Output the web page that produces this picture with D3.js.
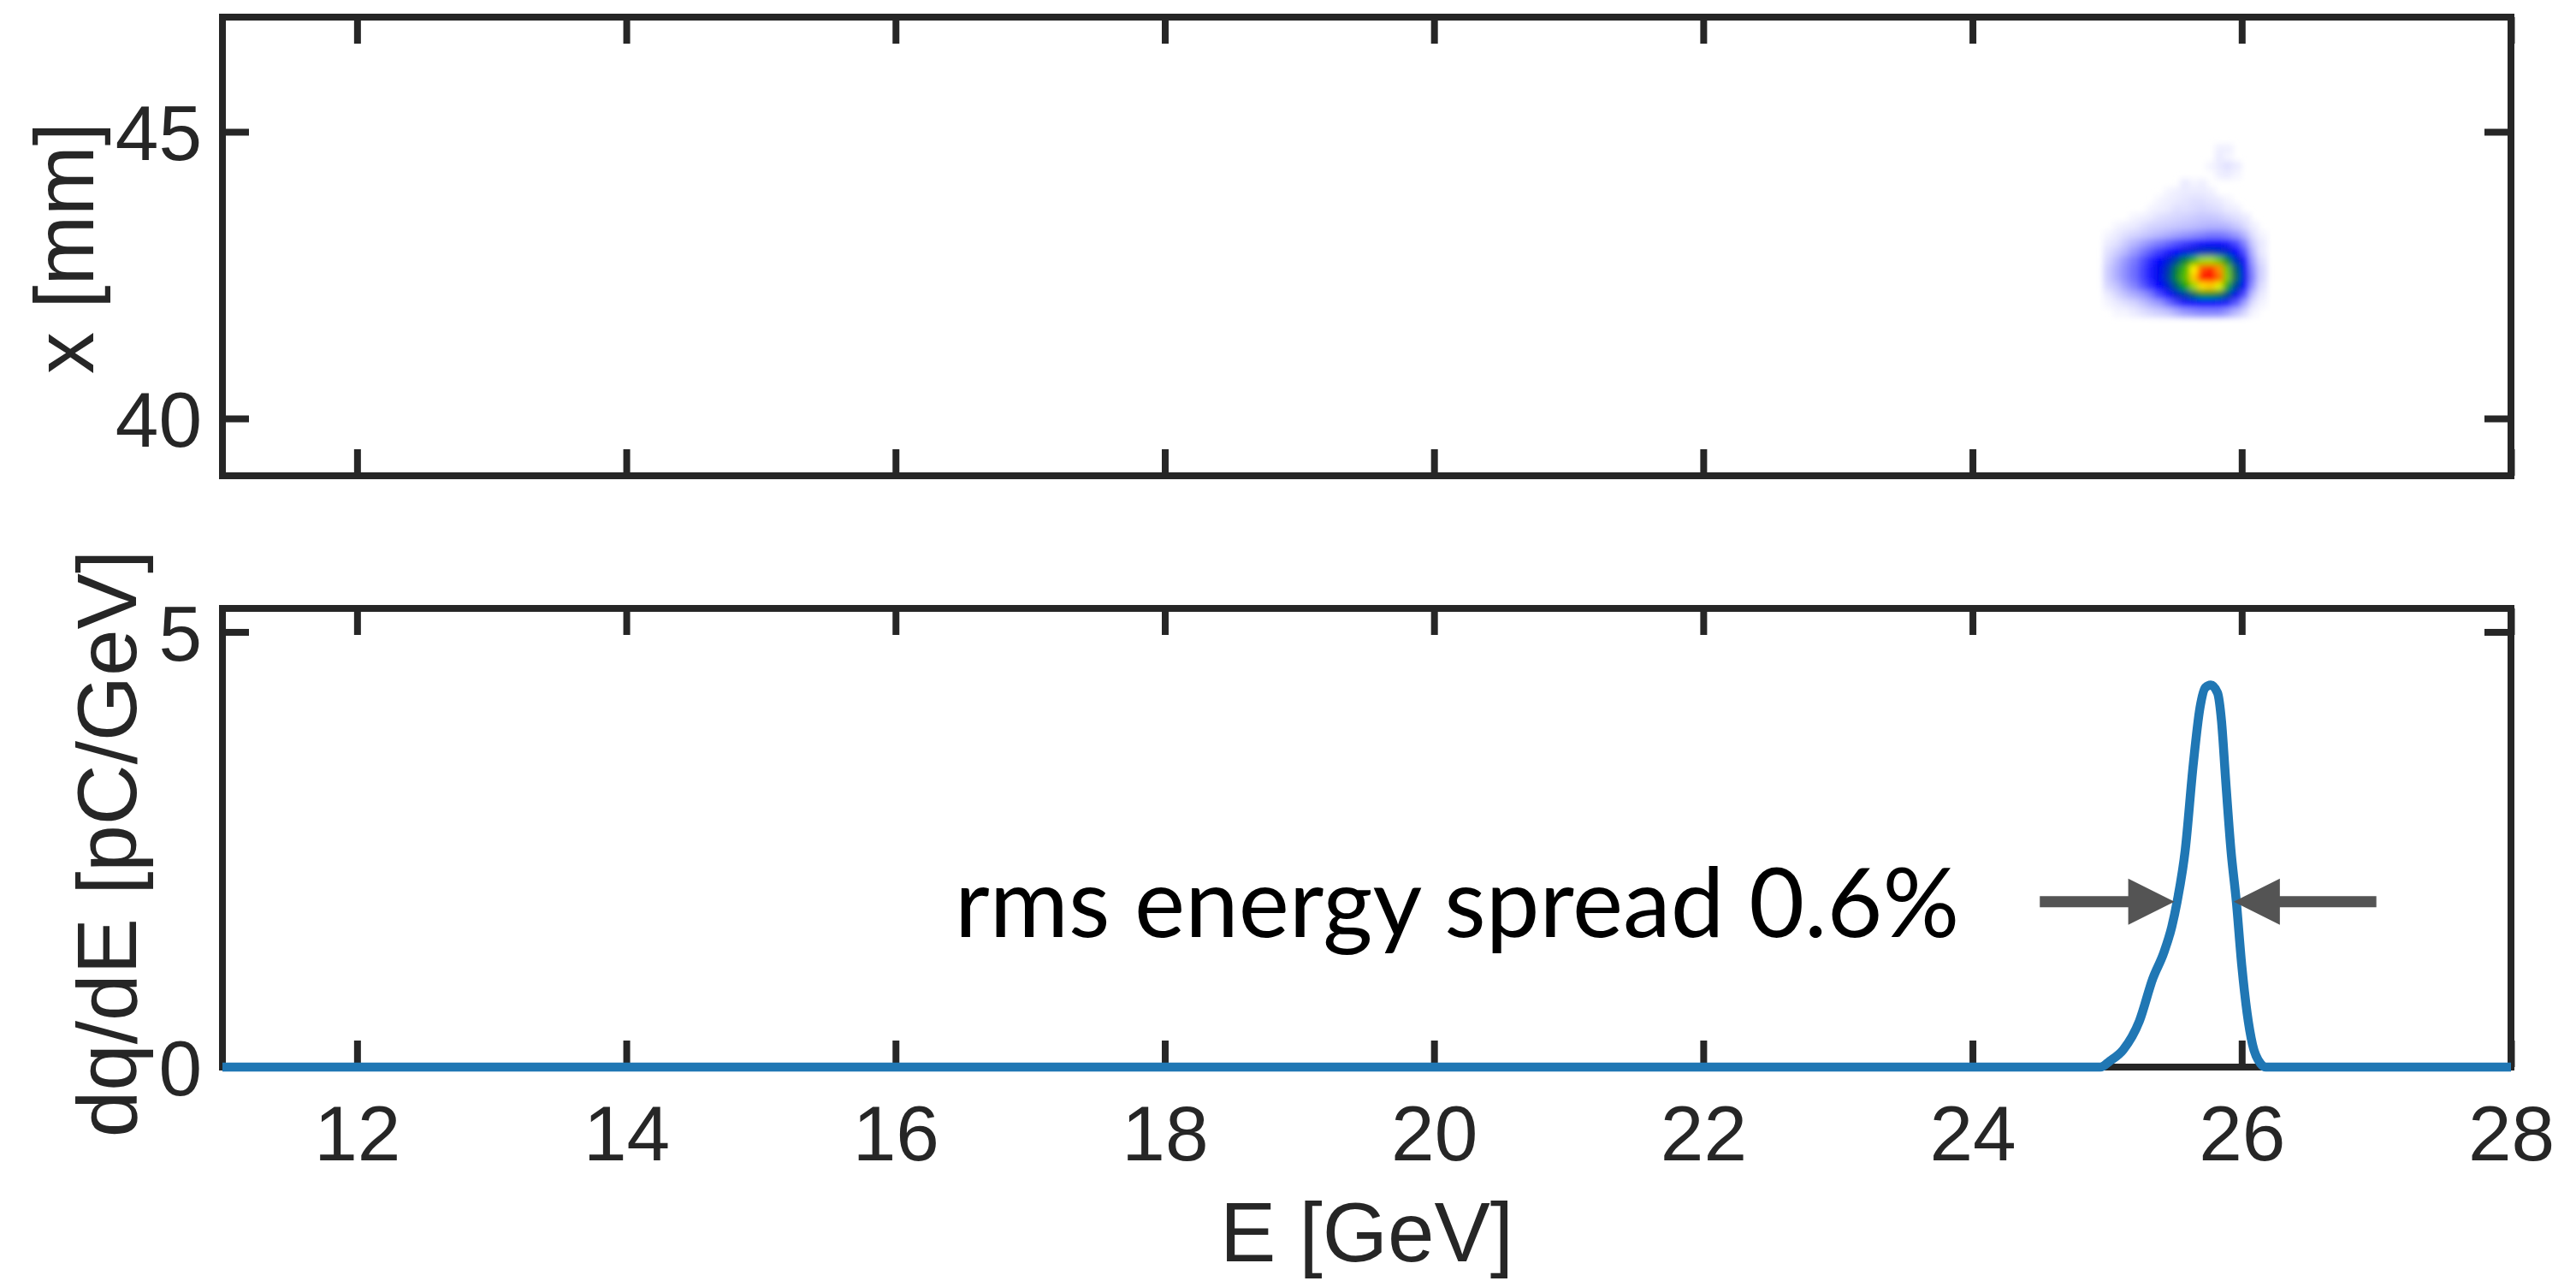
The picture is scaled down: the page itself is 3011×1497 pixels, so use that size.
<!DOCTYPE html>
<html>
<head>
<meta charset="utf-8">
<script src="https://cdn.jsdelivr.net/npm/d3@7"></script>
<style>
  html, body { margin: 0; padding: 0; background: #ffffff; }
  svg { display: block; }
</style>
</head>
<body>
<svg id="fig" width="3011" height="1497"></svg>
<script>
// ---- tick values ----
const energyTicks = [12, 14, 16, 18, 20, 22, 24, 26, 28];
const positionTicks = [40, 45];
const chargeTicks = [0, 5];

// ---- charge spectrum dq/dE [pC/GeV] versus E [GeV] ----
const specE = [11, 24.95, 25.02, 25.12, 25.24, 25.34, 25.42, 25.48, 25.52, 25.58, 25.64, 25.69, 25.73,
               25.77, 25.82, 25.85, 25.88, 25.92, 25.96, 26.00, 26.04, 26.08, 26.14, 26.18, 28];
const specQ = [0, 0, 0.07, 0.20, 0.53, 1.02, 1.31, 1.61, 1.90, 2.49, 3.48, 4.13, 4.36,
               4.39, 4.30, 3.97, 3.31, 2.49, 1.90, 1.17, 0.62, 0.26, 0.04, 0, 0];

// ---- spectrometer screen image: bin centres and normalised intensity ----
const spotE = [25.01, 25.08, 25.14, 25.20, 25.27, 25.33, 25.39, 25.46, 25.52,
               25.58, 25.65, 25.71, 25.77, 25.84, 25.90, 25.96, 26.03, 26.09, 26.15];
const spotX = [44.70, 44.55, 44.40, 44.25, 44.10, 43.95, 43.80, 43.65, 43.50, 43.35,
               43.20, 43.05, 42.90, 42.75, 42.60, 42.45, 42.30, 42.15, 42.00, 41.85];
const spotI = [
  [0,0,0,0,0,0,0,0,0,0,0,0,0,0.015,0.015,0,0,0,0],
  [0,0,0,0,0,0,0,0,0,0,0,0,0,0.02,0.01,0,0,0,0],
  [0,0,0,0,0,0,0,0,0,0,0,0,0.01,0.02,0.03,0.02,0,0,0],
  [0,0,0,0,0,0,0,0,0,0,0,0,0,0.015,0.02,0.01,0,0,0],
  [0,0,0,0,0,0,0,0,0,0.02,0.01,0.015,0,0,0,0,0,0,0],
  [0,0,0,0,0,0,0,0.01,0.015,0.02,0.02,0.02,0.015,0,0,0,0,0,0],
  [0,0,0,0,0,0,0.01,0.015,0.02,0.025,0.03,0.03,0.025,0.02,0.01,0,0,0,0],
  [0,0,0,0,0,0.01,0.015,0.02,0.03,0.03,0.035,0.04,0.035,0.03,0.02,0.015,0,0,0],
  [0,0,0,0.01,0.015,0.02,0.03,0.035,0.04,0.045,0.05,0.055,0.055,0.05,0.04,0.03,0.02,0,0],
  [0,0.01,0.015,0.02,0.03,0.04,0.045,0.05,0.055,0.06,0.065,0.07,0.075,0.075,0.07,0.055,0.035,0.015,0],
  [0.01,0.02,0.03,0.04,0.05,0.06,0.07,0.08,0.09,0.10,0.11,0.12,0.13,0.13,0.12,0.10,0.07,0.03,0.01],
  [0.02,0.03,0.05,0.07,0.09,0.11,0.13,0.15,0.17,0.19,0.21,0.23,0.24,0.24,0.22,0.18,0.12,0.05,0.02],
  [0.03,0.05,0.07,0.10,0.13,0.16,0.19,0.22,0.25,0.28,0.30,0.32,0.33,0.32,0.30,0.25,0.17,0.07,0.02],
  [0.04,0.07,0.10,0.13,0.17,0.21,0.25,0.29,0.35,0.45,0.55,0.65,0.66,0.60,0.46,0.32,0.23,0.09,0.03],
  [0.05,0.08,0.11,0.14,0.18,0.22,0.27,0.33,0.44,0.56,0.76,0.92,0.96,0.86,0.60,0.40,0.26,0.11,0.04],
  [0.05,0.08,0.11,0.14,0.18,0.22,0.27,0.34,0.46,0.58,0.80,0.98,1.00,0.90,0.62,0.42,0.27,0.12,0.04],
  [0.04,0.06,0.09,0.12,0.16,0.20,0.25,0.30,0.39,0.50,0.65,0.78,0.80,0.72,0.52,0.36,0.25,0.10,0.03],
  [0.02,0.04,0.06,0.08,0.10,0.13,0.18,0.23,0.29,0.34,0.41,0.47,0.47,0.44,0.37,0.27,0.17,0.06,0.02],
  [0.01,0.02,0.03,0.04,0.06,0.08,0.10,0.14,0.18,0.22,0.24,0.25,0.25,0.24,0.22,0.16,0.09,0.03,0.01],
  [0,0.01,0.01,0.02,0.03,0.04,0.05,0.06,0.08,0.10,0.11,0.12,0.12,0.12,0.10,0.07,0.04,0.01,0]
];

// ---- energy-spread annotation ----
const arrowLevel = 1.9;          // dq/dE level of the arrows
const arrowFrom = [24.5, 27.0];  // tail positions [GeV]
const arrowTo = [25.5, 25.94];   // tip positions [GeV]
const annotationText = "rms energy spread 0.6%";
const annotationE = 16.44;

// ---- layout ----
const W = 3011, H = 1497;
const left = 260, right = 2935;
const top1 = 20, bottom1 = 556;
const top2 = 711, bottom2 = 1247;
const axisColor = "#262626";
const tickLen = 31;
const axisFont = "'Liberation Sans', Arial, Helvetica, sans-serif";

const svg = d3.select("#fig");
svg.append("rect").attr("width", W).attr("height", H).attr("fill", "#ffffff");

const x = d3.scaleLinear().domain([11, 28]).range([left, right]);
const yPos = d3.scaleLinear().domain([39, 47]).range([bottom1, top1]);
const yQ = d3.scaleLinear().domain([0, 5.27]).range([bottom2, top2]);

const defs = svg.append("defs");
defs.append("clipPath").attr("id", "clipTop")
  .append("rect").attr("x", left).attr("y", top1).attr("width", right - left).attr("height", bottom1 - top1);
defs.append("filter").attr("id", "soften")
  .attr("filterUnits", "userSpaceOnUse")
  .attr("x", left).attr("y", top1).attr("width", right - left).attr("height", bottom1 - top1)
  .append("feGaussianBlur").attr("stdDeviation", 3.5);

// ---- screen image (top panel) ----
const cmap = d3.scaleLinear()
  .domain([0, 0.25, 0.5, 0.75, 1])
  .range(["#ffffff", "#0000ff", "#00a000", "#ffff00", "#ff0000"])
  .clamp(true);

const dE = spotE[1] - spotE[0];
const dX = spotX[0] - spotX[1];
const cells = [];
spotI.forEach((row, i) => row.forEach((v, j) => {
  if (v > 0) cells.push({ e: spotE[j], p: spotX[i], v });
}));

svg.append("g").attr("clip-path", "url(#clipTop)")
  .append("g").attr("filter", "url(#soften)")
  .selectAll("rect").data(cells).join("rect")
  .attr("x", d => x(d.e - dE / 2) - 0.5)
  .attr("y", d => yPos(d.p + dX / 2) - 0.5)
  .attr("width", x(dE) - x(0) + 1)
  .attr("height", yPos(0) - yPos(dX) + 1)
  .attr("fill", d => cmap(d.v));

// ---- axes helpers ----
function styleAxis(g, showLabels) {
  g.select(".domain").remove();
  g.selectAll(".tick line")
    .attr("stroke", axisColor).attr("stroke-width", 8).attr("stroke-linecap", "butt");
  g.selectAll(".tick text")
    .attr("fill", axisColor)
    .style("font-family", axisFont)
    .style("font-size", "91px");
  if (!showLabels) g.selectAll(".tick text").remove();
}

function drawFrame(y, yTicks, yTop, yBottom, showXLabels) {
  // bottom x axis
  svg.append("g").attr("transform", `translate(0,${yBottom})`)
    .call(d3.axisBottom(x).tickValues(energyTicks).tickSize(-tickLen).tickPadding(44).tickFormat(d3.format("d")))
    .call(g => styleAxis(g, showXLabels));
  // top x axis
  svg.append("g").attr("transform", `translate(0,${yTop})`)
    .call(d3.axisTop(x).tickValues(energyTicks).tickSize(-tickLen))
    .call(g => styleAxis(g, false));
  // left y axis
  svg.append("g").attr("transform", `translate(${left},0)`)
    .call(d3.axisLeft(y).tickValues(yTicks).tickSize(-tickLen).tickPadding(24).tickFormat(d3.format("d")))
    .call(g => styleAxis(g, true))
    .call(g => g.selectAll(".tick text").attr("dy", "0.36em"));
  // right y axis
  svg.append("g").attr("transform", `translate(${right},0)`)
    .call(d3.axisRight(y).tickValues(yTicks).tickSize(-tickLen))
    .call(g => styleAxis(g, false));
  // box
  svg.append("rect")
    .attr("x", left).attr("y", yTop)
    .attr("width", right - left).attr("height", yBottom - yTop)
    .attr("fill", "none").attr("stroke", axisColor).attr("stroke-width", 8);
}

drawFrame(yPos, positionTicks, top1, bottom1, false);
drawFrame(yQ, chargeTicks, top2, bottom2, true);

// ---- spectrum line (bottom panel) ----
const line = d3.line()
  .x((d, i) => x(specE[i]))
  .y(d => yQ(d))
  .curve(d3.curveMonotoneX);

svg.append("path")
  .datum(specQ)
  .attr("d", line)
  .attr("fill", "none")
  .attr("stroke", "#2077b4")
  .attr("stroke-width", 10.5)
  .attr("stroke-linejoin", "round")
  .attr("stroke-linecap", "butt");

// ---- arrows ----
const headLen = 54, headHalf = 27, shaftHalf = 6.5;
arrowFrom.forEach((a, k) => {
  const x0 = x(a), x1 = x(arrowTo[k]);
  const s = Math.sign(x1 - x0);
  const xb = x1 - s * headLen;
  const yy = yQ(arrowLevel);
  const p = d3.path();
  p.moveTo(x0, yy - shaftHalf);
  p.lineTo(xb, yy - shaftHalf);
  p.lineTo(xb, yy - headHalf);
  p.lineTo(x1, yy);
  p.lineTo(xb, yy + headHalf);
  p.lineTo(xb, yy + shaftHalf);
  p.lineTo(x0, yy + shaftHalf);
  p.closePath();
  svg.append("path").attr("d", p.toString()).attr("fill", "#545454");
});

const annFont = 112;
svg.append("text")
  .attr("x", x(annotationE))
  .attr("y", yQ(arrowLevel) + 0.37 * annFont)
  .attr("fill", "#000000")
  .style("font-family", "Lato, 'Open Sans', sans-serif")
  .style("font-size", annFont + "px")
  .text(annotationText);

// ---- axis titles ----
const titleStyle = sel => sel.attr("fill", axisColor)
  .style("font-family", axisFont).style("font-size", "98px");

svg.append("text")
  .attr("transform", `translate(109,290) rotate(-90)`)
  .attr("text-anchor", "middle")
  .call(titleStyle)
  .text("x [mm]");

svg.append("text")
  .attr("transform", `translate(159,986) rotate(-90)`)
  .attr("text-anchor", "middle")
  .call(titleStyle)
  .text("dq/dE [pC/GeV]");

svg.append("text")
  .attr("x", (left + right) / 2)
  .attr("y", 1474)
  .attr("text-anchor", "middle")
  .call(titleStyle)
  .text("E [GeV]");
</script>
</body>
</html>
